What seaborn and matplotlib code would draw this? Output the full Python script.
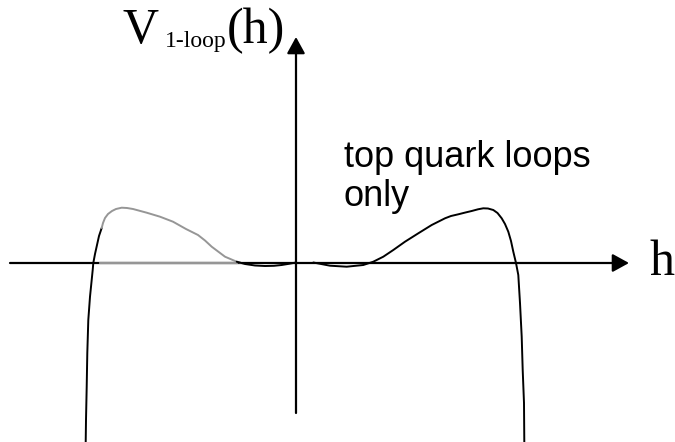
import matplotlib
matplotlib.use("Agg")
import matplotlib.pyplot as plt
import seaborn as sns
import pandas as pd

# One-loop effective potential sketch, arbitrary units (h horizontal, V vertical)
# Left outer branch: plunges to -inf, rises through zero
left_outer_h = [-2.103, -2.100, -2.093, -2.087, -2.077, -2.060, -2.033, -2.027,
                -2.01, -1.99, -1.97, -1.943]
left_outer_v = [-1.79, -1.57, -1.237, -0.90, -0.57, -0.337, -0.07, 0.0,
                0.09, 0.18, 0.27, 0.35]

# Left bump (greyed: mirror image region)
left_bump_h = [-1.943, -1.93, -1.91, -1.88, -1.84, -1.80, -1.743, -1.69, -1.63,
               -1.493, -1.36, -1.23, -1.10, -1.04, -0.98, -0.91, -0.843, -0.71,
               -0.593, -0.55]
left_bump_v = [0.35, 0.40, 0.45, 0.49, 0.52, 0.54, 0.553, 0.55, 0.54,
               0.503, 0.463, 0.413, 0.34, 0.31, 0.28, 0.225, 0.163, 0.063,
               0.013, 0.0]

# Shallow dip next to the origin on the left
left_dip_h = [-0.593, -0.51, -0.41, -0.31, -0.22, -0.143, -0.07, -0.01]
left_dip_v = [0.013, -0.01, -0.025, -0.03, -0.028, -0.02, -0.008, 0.003]

# Right side: dip, bump, then plunge
right_h = [0.173, 0.34, 0.507, 0.673, 0.773, 0.873, 0.973, 1.09, 1.223, 1.357,
           1.49, 1.55, 1.623, 1.69, 1.757, 1.82, 1.873, 1.92, 1.973, 2.015,
           2.057, 2.09, 2.123, 2.15, 2.173, 2.20, 2.223, 2.24, 2.257, 2.267,
           2.28, 2.283]
right_v = [0.005, -0.027, -0.037, -0.02, 0.013, 0.063, 0.13, 0.213, 0.297, 0.38,
           0.447, 0.47, 0.487, 0.504, 0.52, 0.537, 0.547, 0.545, 0.53, 0.50,
           0.447, 0.39, 0.313, 0.22, 0.113, 0.0, -0.12, -0.40, -0.737, -1.07,
           -1.40, -1.79]

# Grey segment lying on the h axis under the left bump
grey_axis_h = [-1.96, -0.59]
grey_axis_v = [0.0, 0.0]

BLACK = "#000000"
GREY = "#969696"

sns.set_theme(style="white")
plt.rcParams["font.family"] = ["Liberation Sans", "DejaVu Sans"]
plt.rcParams["text.color"] = BLACK

fig = plt.figure(figsize=(6.75, 4.42), dpi=100)
fig.patch.set_facecolor("white")
ax = fig.add_axes([0, 0, 1, 1])

# Axes with arrowheads
arrow_style = "-|>,head_length=1.0,head_width=0.55"
ax.annotate("", xy=(3.33, 0.0), xytext=(-2.86, 0.0),
            arrowprops=dict(arrowstyle=arrow_style, mutation_scale=10, lw=1.6,
                            color=BLACK, shrinkA=0, shrinkB=0), zorder=2)
ax.annotate("", xy=(0.0, 2.26), xytext=(0.0, -1.50),
            arrowprops=dict(arrowstyle=arrow_style, mutation_scale=10, lw=1.6,
                            color=BLACK, shrinkA=0, shrinkB=0), zorder=2)

def branch(h, v, color, lw=1.4):
    df = pd.DataFrame({"h": h, "V": v})
    sns.lineplot(data=df, x="h", y="V", ax=ax, sort=False, estimator=None,
                 color=color, lw=lw, zorder=3,
                 solid_joinstyle="round", solid_capstyle="round")

branch(grey_axis_h, grey_axis_v, GREY, lw=1.6)
branch(left_outer_h, left_outer_v, BLACK)
branch(left_bump_h, left_bump_v, GREY)
branch(left_dip_h, left_dip_v, BLACK)
branch(right_h, right_v, BLACK)

ax.set_xlim(-2.96, 3.79)
ax.set_ylim(-1.79, 2.63)
ax.set_axis_off()

serif = ["Liberation Serif", "DejaVu Serif"]
ax.text(-1.73, 2.20, "V", fontsize=36, family=serif, color=BLACK,
        ha="left", va="baseline")
ax.text(-1.31, 2.16, "1-loop", fontsize=17, family=serif, color=BLACK,
        ha="left", va="baseline")
ax.text(-0.69, 2.20, "(h)", fontsize=36, family=serif, color=BLACK,
        ha="left", va="baseline")
ax.text(3.54, -0.12, "h", fontsize=36, family=serif, color=BLACK,
        ha="left", va="baseline")

ax.text(0.48, 0.963, "top quark loops", fontsize=26, color=BLACK,
        ha="left", va="baseline")
ax.text(0.48, 0.57, "only", fontsize=26, color=BLACK,
        ha="left", va="baseline")

fig.savefig("out.png", dpi=100, facecolor="white")
